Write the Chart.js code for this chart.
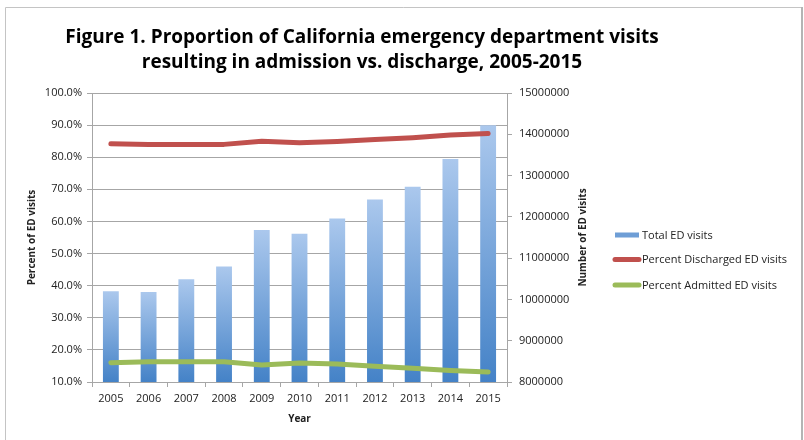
<!DOCTYPE html>
<html>
<head>
<meta charset="utf-8">
<script src="https://cdn.jsdelivr.net/npm/chart.js@4.4.1/dist/chart.umd.min.js"></script>
<style>
  html, body { margin: 0; padding: 0; background: #fff; }
  #wrap { width: 804px; height: 440px; }
</style>
</head>
<body>
<div id="wrap"><canvas id="mycanvas" width="804" height="440"></canvas></div>
<script>
var years = ['2005', '2006', '2007', '2008', '2009', '2010', '2011', '2012', '2013', '2014', '2015'];
var totalVisits = [10200000, 10180000, 10490000, 10800000, 11680000, 11590000, 11960000, 12420000, 12730000, 13400000, 14220000];
var pctDischarged = [84.2, 84.0, 84.0, 84.0, 85.0, 84.5, 84.9, 85.5, 86.1, 86.9, 87.4];
var pctAdmitted = [16.0, 16.3, 16.3, 16.3, 15.3, 15.9, 15.6, 14.9, 14.3, 13.6, 13.1];
var titleLines = ['Figure 1. Proportion of California emergency department visits',
                  'resulting in admission vs. discharge, 2005-2015'];

var FONT = "'Open Sans', sans-serif";
var GRID = '#a6a6a6';
var RED = 'rgb(192, 80, 77)';
var GREEN = 'rgb(155, 187, 89)';
var BLUE = 'rgb(110, 158, 214)';

// each bar gets its own light-to-dark vertical gradient
function barFill(c) {
	var chart = c.chart;
	var area = chart.chartArea;
	if (!area || c.type !== 'data' || !chart.scales.y2) return BLUE;
	var top = chart.scales.y2.getPixelForValue(totalVisits[c.dataIndex]);
	var g = chart.ctx.createLinearGradient(0, top, 0, area.bottom);
	g.addColorStop(0, 'rgb(171, 200, 237)');
	g.addColorStop(1, 'rgb(68, 130, 199)');
	return g;
}

// frame, two-line title, right axis title and the legend
var decorations = {
	id: 'decorations',
	beforeDraw: function(chart) {
		var ctx = chart.ctx;
		ctx.save();
		ctx.strokeStyle = '#c4c4c4';
		ctx.lineWidth = 1;
		ctx.beginPath();
		ctx.moveTo(5.5, 445);
		ctx.lineTo(5.5, 7.5);
		ctx.lineTo(801, 7.5);
		ctx.stroke();
		ctx.strokeStyle = '#b4b4b4';
		ctx.lineWidth = 2;
		ctx.beginPath();
		ctx.moveTo(802, 7);
		ctx.lineTo(802, 445);
		ctx.stroke();
		ctx.restore();
	},
	afterDraw: function(chart) {
		var ctx = chart.ctx;
		var area = chart.chartArea;
		ctx.save();
		ctx.fillStyle = '#000';
		ctx.textAlign = 'center';
		ctx.textBaseline = 'alphabetic';
		ctx.font = "bold 19px " + FONT;
		ctx.fillText(titleLines[0], 362, 43);
		ctx.fillText(titleLines[1], 362, 68);
		ctx.restore();

		ctx.save();
		ctx.translate(583, (area.top + area.bottom) / 2);
		ctx.rotate(-Math.PI / 2);
		ctx.font = "bold 10px " + FONT;
		ctx.textAlign = 'center';
		ctx.textBaseline = 'middle';
		ctx.fillStyle = '#222';
		ctx.fillText('Number of ED visits', 0, 0);
		ctx.restore();

		// legend
		var rows = [235, 259.5, 285];
		ctx.save();
		ctx.font = "11px " + FONT;
		ctx.textAlign = 'left';
		ctx.textBaseline = 'middle';
		chart.data.datasets.forEach(function(ds, i) {
			var y = rows[i];
			if (ds.type === 'bar') {
				ctx.fillStyle = BLUE;
				ctx.fillRect(615, y - 2.5, 24, 5);
			} else {
				ctx.strokeStyle = ds.borderColor;
				ctx.lineWidth = 5;
				ctx.lineCap = 'round';
				ctx.beginPath();
				ctx.moveTo(615, y);
				ctx.lineTo(639, y);
				ctx.stroke();
			}
			ctx.fillStyle = '#222';
			ctx.fillText(ds.label, 642, y + 0.5);
		});
		ctx.restore();
	}
};

var chartdata = {
	labels: years,
	datasets: [
		{
			type: 'bar',
			label: 'Total ED visits',
			data: totalVisits,
			yAxisID: 'y2',
			backgroundColor: barFill,
			borderWidth: 0,
			categoryPercentage: 1,
			barPercentage: 0.42,
			order: 1
		},
		{
			type: 'line',
			label: 'Percent Discharged ED visits',
			data: pctDischarged,
			yAxisID: 'y',
			borderColor: RED,
			backgroundColor: RED,
			borderWidth: 5,
			pointRadius: 0,
			tension: 0,
			borderCapStyle: 'round',
			borderJoinStyle: 'round',
			order: 0
		},
		{
			type: 'line',
			label: 'Percent Admitted ED visits',
			data: pctAdmitted,
			yAxisID: 'y',
			borderColor: GREEN,
			backgroundColor: GREEN,
			borderWidth: 5,
			pointRadius: 0,
			tension: 0,
			borderCapStyle: 'round',
			borderJoinStyle: 'round',
			order: 0
		}
	]
};

var ctx = document.getElementById('mycanvas');

var comboChart = new Chart(ctx, {
	type: 'bar',
	data: chartdata,
	plugins: [decorations],
	options: {
		responsive: false,
		animation: false,
		layout: { padding: { top: 93, left: 22, right: 200, bottom: 7 } },
		plugins: {
			title: { display: false },
			tooltip: { enabled: false },
			legend: { display: false }
		},
		scales: {
			x: {
				offset: true,
				grid: { offset: true, drawOnChartArea: false, drawTicks: true, tickLength: 5, color: GRID },
				border: { display: true, color: GRID },
				ticks: { font: { family: FONT, size: 11 }, color: '#222', padding: 5, maxRotation: 0 },
				title: { display: true, text: 'Year', font: { family: FONT, size: 10, weight: 'bold' }, color: '#222', padding: { top: 4, bottom: 8 } },
				afterFit: function(scale) { scale.height = 51; }
			},
			y: {
				position: 'left',
				min: 10,
				max: 100,
				ticks: {
					stepSize: 10,
					font: { family: FONT, size: 11 },
					color: '#222',
					padding: 5,
					callback: function(v) { return v.toFixed(1) + '%'; }
				},
				grid: { color: GRID, tickLength: 5 },
				border: { display: true, color: GRID },
				title: { display: true, text: 'Percent of ED visits', font: { family: FONT, size: 10, weight: 'bold' }, color: '#222', padding: { top: 4, bottom: 4 } },
				afterFit: function(scale) { scale.width = 70; }
			},
			y2: {
				position: 'right',
				min: 8000000,
				max: 15000000,
				ticks: {
					stepSize: 1000000,
					font: { family: FONT, size: 11 },
					color: '#222',
					padding: 7,
					callback: function(v) { return String(v); }
				},
				grid: { drawOnChartArea: false, color: GRID, tickLength: 5 },
				border: { display: true, color: GRID },
				afterFit: function(scale) { scale.width = 97; }
			}
		}
	}
});
</script>
</body>
</html>
